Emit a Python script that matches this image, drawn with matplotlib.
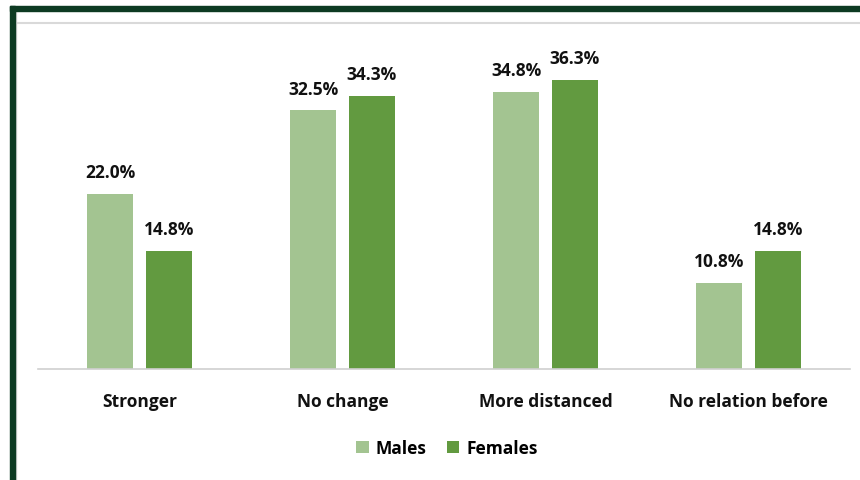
import matplotlib
matplotlib.use("Agg")
import matplotlib.pyplot as plt
import numpy as np
from matplotlib.patches import Rectangle
from matplotlib.lines import Line2D

categories = ["Stronger", "No change", "More distanced", "No relation before"]
males = [22.0, 32.5, 34.8, 10.8]
females = [14.8, 34.3, 36.3, 14.8]
series_names = ["Males", "Females"]

MALE_COLOR = "#a3c491"
FEMALE_COLOR = "#629a40"
BORDER = "#0d3a22"

plt.rcParams["font.family"] = ["Open Sans", "DejaVu Sans"]

W, H = 860, 481
fig = plt.figure(figsize=(W / 100, H / 100), dpi=100)

# frame decorations (figure pixel coords -> fraction)
def px(x0, y0, w, h):
  return (x0 / W, 1 - (y0 + h) / H, w / W, h / H)

fig.patches.append(Rectangle(px(10, 7, 850, 5)[:2], 850 / W, 5 / H, transform=fig.transFigure,
                             color=BORDER, zorder=5))
fig.patches.append(Rectangle(px(10, 7, 5, 474)[:2], 5 / W, 474 / H, transform=fig.transFigure,
                             color=BORDER, zorder=5))
fig.lines.append(Line2D([16 / W, 1], [1 - 24 / H, 1 - 24 / H], transform=fig.transFigure,
                        color="#d9d9d9", linewidth=1.5))
fig.lines.append(Line2D([16 / W, 16 / W], [1 - 12 / H, 0], transform=fig.transFigure,
                        color="#d9d9d9", linewidth=1.0))

ax_left, ax_right, ax_top, ax_base = 38, 850, 42, 369.5
ax = fig.add_axes([ax_left / W, 1 - ax_base / H, (ax_right - ax_left) / W, (ax_base - ax_top) / H])

x = np.arange(len(categories))
bw = 0.227
off = 0.144
b1 = ax.bar(x - off, males, bw, color=MALE_COLOR, label=series_names[0])
b2 = ax.bar(x + off, females, bw, color=FEMALE_COLOR, label=series_names[1])

for bars, vals in ((b1, males), (b2, females)):
  for rect, v in zip(bars, vals):
    ax.annotate(f"{v:.1f}%", (rect.get_x() + rect.get_width() / 2, v),
                xytext=(0, 9), textcoords="offset points", ha="center", va="bottom",
                fontsize=12.5, fontweight="bold", color="#111111")

ax.set_xlim(-0.5, len(categories) - 0.5)
ax.set_ylim(0, (ax_base - ax_top) / 7.95)
ax.set_xticks(x)
ax.set_xticklabels(categories, fontsize=12.5, fontweight="bold", color="#111111")
ax.tick_params(axis="x", length=0, pad=17)
ax.set_yticks([])
for s in ("top", "right", "left"):
  ax.spines[s].set_visible(False)
ax.spines["bottom"].set_color("#d0d0d0")
ax.spines["bottom"].set_linewidth(1.2)

leg = fig.legend(handles=[b1, b2], labels=series_names, loc="center",
                 bbox_to_anchor=(447 / W, 1 - 449 / H), ncol=2, frameon=False,
                 prop={"size": 12.5, "weight": "bold"}, handlelength=0.7, handleheight=0.7,
                 handletextpad=0.4, columnspacing=1.2)

fig.savefig("out.png", dpi=100, facecolor="white")
